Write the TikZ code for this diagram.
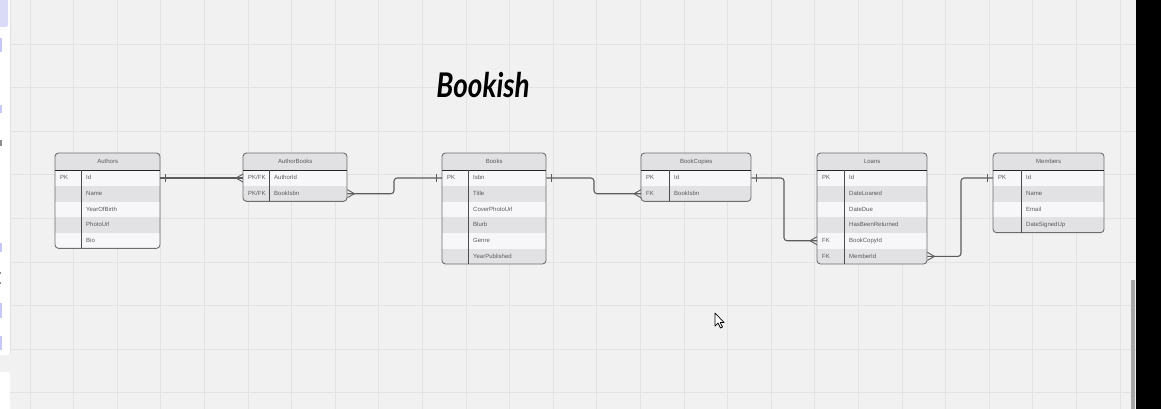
\documentclass[tikz,border=0pt]{standalone}
\usepackage{fontspec}
\setmainfont{Liberation Sans}
\newfontfamily\titlefont{Lato}
\definecolor{bg}{HTML}{F1F1F1}
\definecolor{gridc}{HTML}{E3E3E3}
\definecolor{hdrc}{HTML}{E1E0E2}
\definecolor{rowc1}{HTML}{F7F6F8}
\definecolor{rowc0}{HTML}{E2E1E3}
\definecolor{edgec}{HTML}{6E6E6E}
\definecolor{txtc}{HTML}{5A5A5A}
\definecolor{connc}{HTML}{5C5C5C}
\definecolor{lav}{HTML}{DADCF7}
\tikzset{
  hdrbox/.style={anchor=north west, minimum height=17pt, inner sep=0pt, fill=hdrc, font=\fontsize{6}{7}\selectfont},
  rowbox/.style={anchor=north west, minimum height=15.67pt, inner sep=0pt},
  celltext/.style={anchor=west, inner sep=0pt, text=txtc, font=\fontsize{6}{7}\selectfont},
  conn/.style={draw=connc, line width=1.1pt},
  gridline/.style={draw=gridc, line width=0.8pt},
}
\newcommand\ertable[7]{%
  \pgfmathsetmacro\erbot{170+15.67*#6}
  \begin{scope}
    \clip[rounded corners=3.5] (#3,153) rectangle ({#3+#4},\erbot);
    \node[hdrbox, minimum width=#4] (#1) at (#3,153) {\textcolor{txtc}{#2}};
    \foreach \k/\f [count=\i] in {#7} {
      \pgfmathtruncatemacro\pp{mod(\i,2)}
      \node[rowbox, minimum width=#4, fill=rowc\pp] (#1-\i) at (#3,{170+15.67*(\i-1)}) {};
      \node[celltext] (#1-k\i) at ({#3+5},{170+15.67*(\i-0.5)}) {\k};
      \node[celltext] (#1-f\i) at ({#3+#5+5},{170+15.67*(\i-0.5)}) {\f};
    }
  \end{scope}
  \draw[edgec, line width=0.9pt, rounded corners=3.5] (#3,153) rectangle ({#3+#4},\erbot);
  \draw[black!85, line width=1pt] (#3,170) -- ({#3+#4},170);
  \draw[black!70, line width=1pt] ({#3+#5},170) -- ({#3+#5},\erbot);
}
\newcommand\ertick[2]{\draw[conn, line width=0.9pt] ([xshift=#2*5.5pt,yshift=-4pt]#1) -- ([xshift=#2*5.5pt,yshift=4pt]#1);}
\newcommand\ercrow[2]{\draw[conn, line width=0.9pt] ([yshift=4pt]#1) -- ([xshift=#2*7pt]#1) -- ([yshift=-4pt]#1);}
\begin{document}
\begin{tikzpicture}[x=1pt,y=-1pt]
\useasboundingbox (0,0) rectangle (1161,409);
\fill[bg] (0,0) rectangle (1161,409);
\foreach \i in {0,...,25} \draw[gridline] ({30+43.6*\i},0) -- ({30+43.6*\i},409);
\foreach \j in {1,...,9} \draw[gridline] (0,{0.4+43.6*\j}) -- (1161,{0.4+43.6*\j});
% left sidebar
\fill[white, rounded corners=2] (-5,-5) rectangle (10,355);
\fill[white, rounded corners=2] (-5,372) rectangle (10,415);
\draw[black!12, line width=0.6pt] (10.5,0) -- (10.5,354);
\fill[lav, rounded corners=1.5] (-3,-3) rectangle (8,27);
\foreach \a/\b in {38/52, 105/113, 243/252, 303/318, 336/350} \fill[lav!80!blue!70] (0,\a) rectangle (2.2,\b);
\fill[black!45] (0,140) rectangle (2,146);
\fill[black!45] (0,272) rectangle (1.3,274);
\fill[black!45] (0,282) rectangle (1.3,284);
% right edge
\fill[black] (1136,0) rectangle (1161,409);
\fill[black!35] (1131,280) rectangle (1135,409);
% title
\node (title) at (483,85) {\scalebox{0.82}[1]{\titlefont\bfseries\itshape\fontsize{34}{36}\selectfont Bookish}};
% tables
\ertable{authors}{Authors}{55}{105}{26}{5}{PK/Id, /Name, /YearOfBirth, /PhotoUrl, /Bio}
\ertable{authorbooks}{AuthorBooks}{243}{104}{26}{2}{{PK/FK}/AuthorId, {PK/FK}/BookIsbn}
\ertable{books}{Books}{442}{104}{26}{6}{PK/Isbn, /Title, /CoverPhotoUrl, /Blurb, /Genre, /YearPublished}
\ertable{bookcopies}{BookCopies}{641}{110}{28}{2}{PK/Id, FK/BookIsbn}
\ertable{loans}{Loans}{817}{110}{27}{6}{PK/Id, /DateLoaned, /DateDue, /HasBeenReturned, FK/BookCopyId, FK/MemberId}
\ertable{members}{Members}{993}{111}{28}{4}{PK/Id, /Name, /Email, /DateSignedUp}
% connectors
\coordinate (b1) at (394,0);
\coordinate (b2) at (594,0);
\coordinate (b3) at (784,0);
\coordinate (b4) at (961,0);
\draw[conn] (authors-1.east) -- (authorbooks-1.west);
\ertick{authors-1.east}{1}
\ercrow{authorbooks-1.west}{-1}
\draw[conn, rounded corners=3] (authorbooks-2.east) -- (b1 |- authorbooks-2.east) -- (b1 |- books-1.west) -- (books-1.west);
\ercrow{authorbooks-2.east}{1}
\ertick{books-1.west}{-1}
\draw[conn, rounded corners=3] (books-1.east) -- (b2 |- books-1.east) -- (b2 |- bookcopies-2.west) -- (bookcopies-2.west);
\ertick{books-1.east}{1}
\ercrow{bookcopies-2.west}{-1}
\draw[conn, rounded corners=3] (bookcopies-1.east) -- (b3 |- bookcopies-1.east) -- (b3 |- loans-5.west) -- (loans-5.west);
\ertick{bookcopies-1.east}{1}
\ercrow{loans-5.west}{-1}
\draw[conn, rounded corners=3] (loans-6.east) -- (b4 |- loans-6.east) -- (b4 |- members-1.west) -- (members-1.west);
\ercrow{loans-6.east}{1}
\ertick{members-1.west}{-1}
% cursor
\draw[black, fill=white, line width=0.7pt, line join=round] (715,313) -- (715,326) -- (718,323) -- (720.5,328) -- (722.5,327) -- (720.2,322.5) -- (724,322.5) -- cycle;
\end{tikzpicture}
\end{document}
